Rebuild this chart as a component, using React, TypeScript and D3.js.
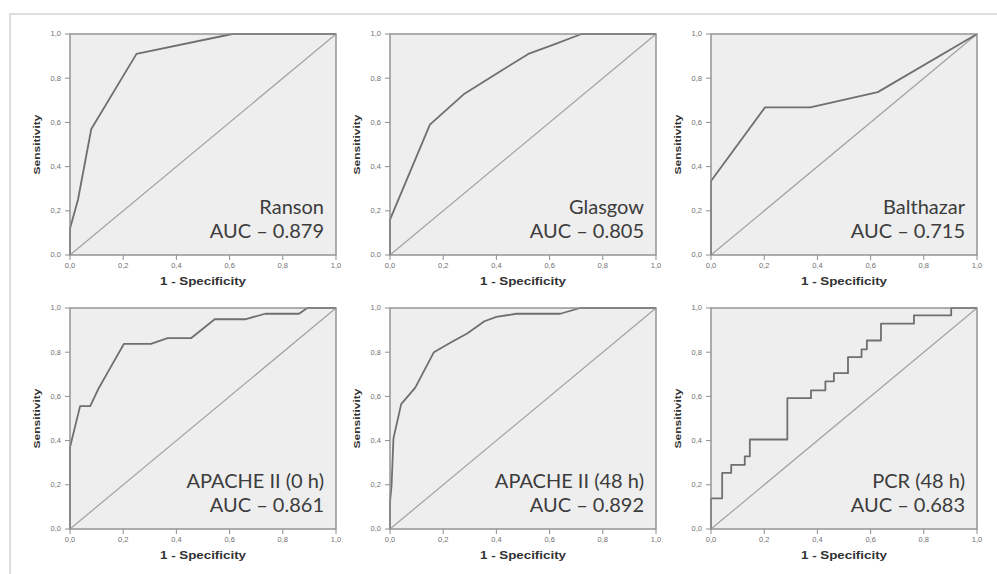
import * as d3 from 'd3'

// ROC curve points: [1 - specificity, sensitivity]
const ransonPoints: [number, number][] = [
  [0, 0], [0, 0.12], [0.03, 0.25], [0.08, 0.57], [0.25, 0.91], [0.61, 1], [1, 1],
]
const glasgowPoints: [number, number][] = [
  [0, 0], [0, 0.16], [0.15, 0.59], [0.28, 0.73], [0.4, 0.82], [0.52, 0.91], [0.61, 0.95], [0.72, 1], [1, 1],
]
const balthazarPoints: [number, number][] = [
  [0, 0], [0, 0.335], [0.203, 0.668], [0.373, 0.668], [0.627, 0.737], [1, 1],
]
const apache0Points: [number, number][] = [
  [0, 0], [0, 0.37], [0.038, 0.556], [0.076, 0.556], [0.108, 0.637], [0.146, 0.718], [0.203, 0.838],
  [0.304, 0.838], [0.367, 0.864], [0.456, 0.864], [0.544, 0.949], [0.658, 0.949], [0.734, 0.974],
  [0.861, 0.974], [0.892, 1], [1, 1],
]
const apache48Points: [number, number][] = [
  [0, 0], [0, 0.12], [0.006, 0.2], [0.013, 0.41], [0.042, 0.565], [0.095, 0.64], [0.165, 0.8],
  [0.23, 0.845], [0.29, 0.885], [0.355, 0.94], [0.4, 0.96], [0.475, 0.974], [0.64, 0.974], [0.715, 1], [1, 1],
]
const pcrPoints: [number, number][] = [
  [0, 0], [0, 0.139], [0.042, 0.139], [0.042, 0.254], [0.076, 0.254], [0.076, 0.29], [0.127, 0.29],
  [0.127, 0.329], [0.146, 0.329], [0.146, 0.405], [0.287, 0.405], [0.287, 0.592], [0.376, 0.592],
  [0.376, 0.627], [0.43, 0.627], [0.43, 0.668], [0.462, 0.668], [0.462, 0.705], [0.515, 0.705],
  [0.515, 0.778], [0.566, 0.778], [0.566, 0.813], [0.586, 0.813], [0.586, 0.853], [0.639, 0.853],
  [0.639, 0.929], [0.763, 0.929], [0.763, 0.967], [0.903, 0.967], [0.903, 1], [1, 1],
]

const panelNames = ['Ranson', 'Glasgow', 'Balthazar', 'APACHE II (0 h)', 'APACHE II (48 h)', 'PCR (48 h)']
const aucValues = ['0.879', '0.805', '0.715', '0.861', '0.892', '0.683']
const panelCurves = [ransonPoints, glasgowPoints, balthazarPoints, apache0Points, apache48Points, pcrPoints]
const tickValues = [0, 0.2, 0.4, 0.6, 0.8, 1]

const xTitle = '1 - Specificity'
const yTitle = 'Sensitivity'

const W = 997
const H = 574
const colLeft = [70, 390, 711]
const rowTop = [34, 308]
const plotW = 266
const plotH = 221

const fmt = d3.formatLocale({ decimal: ',', thousands: '.', grouping: [3], currency: ['', ''] }).format('.1f')

function RocPanel({ idx }: { idx: number }) {
  const left = colLeft[idx % 3]
  const top = rowTop[Math.floor(idx / 3)]
  const x = d3.scaleLinear().domain([0, 1]).range([0, plotW])
  const y = d3.scaleLinear().domain([0, 1]).range([plotH, 0])
  const line = d3.line<[number, number]>().x(d => x(d[0])).y(d => y(d[1]))

  return (
    <g transform={`translate(${left},${top})`}>
      <rect width={plotW} height={plotH} fill="#eeeeee" />
      <path d={line([[0, 0], [1, 1]]) || ''} fill="none" stroke="#a2a2a2" strokeWidth={1.2} />
      <path d={line(panelCurves[idx]) || ''} fill="none" stroke="#6f6f6f" strokeWidth={1.8} strokeLinejoin="round" />

      {/* annotation */}
      <text x={plotW - 12} y={plotH - 41} textAnchor="end" fontFamily="Lato" fontSize={20} fill="#3c3c3c">
        {panelNames[idx]}
      </text>
      <text x={plotW - 12} y={plotH - 17} textAnchor="end" fontFamily="Lato" fontSize={20} fill="#3c3c3c">
        {`AUC \u2013 ${aucValues[idx]}`}
      </text>

      <rect width={plotW} height={plotH} fill="none" stroke="#8e8e8e" strokeWidth={1.4} />

      {/* y axis */}
      {tickValues.map(t => (
        <g key={'y' + t} transform={`translate(0,${y(t)})`}>
          <line x1={-5} x2={0} stroke="#8e8e8e" strokeWidth={1} />
          <text x={-9} dy="0.32em" textAnchor="end" fontFamily="Liberation Sans" fontSize={7.5} fill="#707070">
            {fmt(t)}
          </text>
        </g>
      ))}
      {/* x axis */}
      {tickValues.map(t => (
        <g key={'x' + t} transform={`translate(${x(t)},${plotH})`}>
          <line y1={0} y2={5} stroke="#8e8e8e" strokeWidth={1} />
          <text y={13} textAnchor="middle" fontFamily="Liberation Sans" fontSize={7.5} fill="#707070">
            {fmt(t)}
          </text>
        </g>
      ))}

      <text x={plotW / 2} y={plotH + 30} textAnchor="middle" fontFamily="Liberation Sans" fontWeight="bold"
        fontSize={10} fill="#333" textLength={86} lengthAdjust="spacingAndGlyphs">
        {xTitle}
      </text>
      <text transform={`translate(-30,${plotH / 2}) rotate(-90)`} textAnchor="middle" fontFamily="Liberation Sans"
        fontWeight="bold" fontSize={9.5} fill="#333" textLength={60} lengthAdjust="spacingAndGlyphs">
        {yTitle}
      </text>
    </g>
  )
}

export default function App() {
  return (
    <div style={{ position: 'absolute', left: 0, top: 0 }}>
      <svg width={W} height={H} style={{ display: 'block', background: '#fff' }}>
        <path d={`M10,${H} V14 H${W}`} fill="none" stroke="#dedede" strokeWidth={2} />
        {panelNames.map((_, i) => <RocPanel key={i} idx={i} />)}
      </svg>
    </div>
  )
}
